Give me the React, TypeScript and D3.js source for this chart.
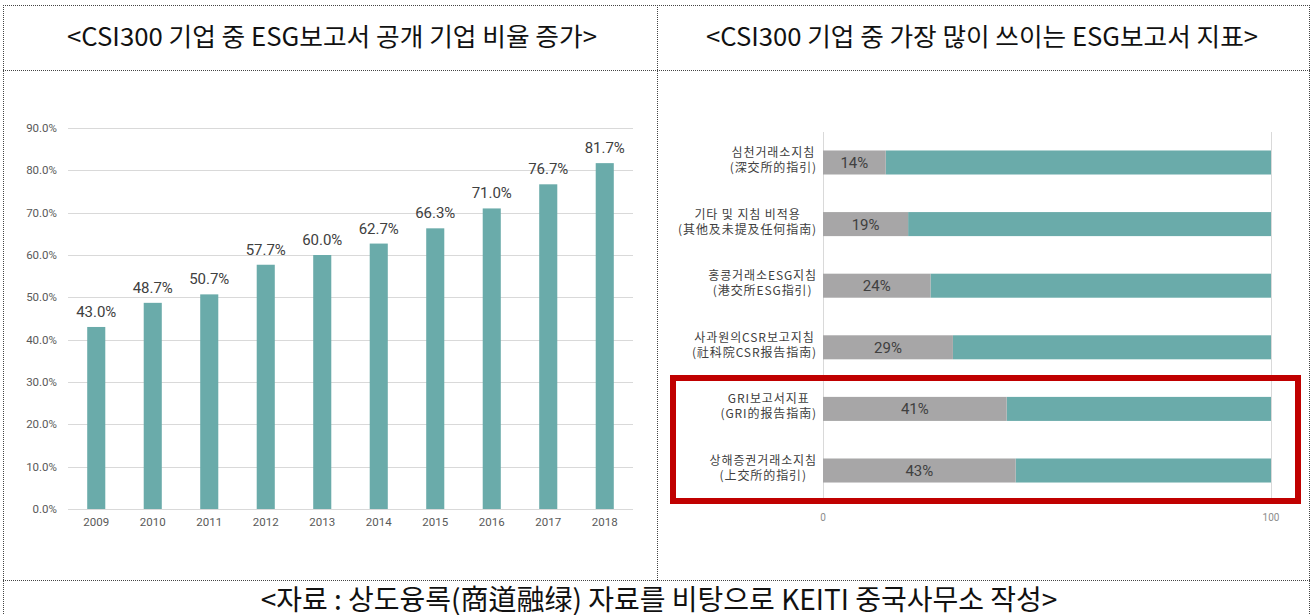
import React, { useEffect, useRef } from "react";
import * as d3 from "d3";

const years = ["2009", "2010", "2011", "2012", "2013", "2014", "2015", "2016", "2017", "2018"];
const disclosureRates = [43.0, 48.7, 50.7, 57.7, 60.0, 62.7, 66.3, 71.0, 76.7, 81.7];
const yTicks = [0, 10, 20, 30, 40, 50, 60, 70, 80, 90];

const guideLine1 = ["심천거래소지침", "기타 및 지침 비적용", "홍콩거래소ESG지침", "사과원의CSR보고지침", "GRI보고서지표", "상해증권거래소지침"];
const guideLine2 = ["(深交所的指引)", "(其他及未提及任何指南)", "(港交所ESG指引)", "(社科院CSR报告指南)", "(GRI的报告指南)", "(上交所的指引)"];
const guideShares = [14, 19, 24, 29, 41, 43];
const xTicks = [0, 100];

const leftTitle = "<CSI300 기업 중 ESG보고서 공개 기업 비율 증가>";
const rightTitle = "<CSI300 기업 중 가장 많이 쓰이는 ESG보고서 지표>";
const footer = "<자료 : 상도융록(商道融绿) 자료를 비탕으로 KEITI 중국사무소 작성>";

const TEAL = "#6aabaa";
const GRAY = "#a7a6a7";
const KR = "'Noto Sans CJK KR', 'Noto Sans', sans-serif";
const NUM = "Roboto, 'Noto Sans', sans-serif";

export default function App() {
  const ref = useRef<SVGSVGElement>(null);

  useEffect(() => {
    const svg = d3.select(ref.current);
    svg.selectAll("*").remove();

    // Frame (dotted)
    const frame = svg.append("g").attr("stroke", "#444").attr("stroke-width", 1).attr("stroke-dasharray", "1 1").attr("fill", "none");
    const lines: [number, number, number, number][] = [
      [3, 5.5, 1310, 5.5],
      [3, 70.5, 1310, 70.5],
      [3, 580.5, 1310, 580.5],
      [3.5, 5, 3.5, 615],
      [1309.5, 5, 1309.5, 615],
      [657.5, 5, 657.5, 581],
    ];
    lines.forEach(([x1, y1, x2, y2]) => frame.append("line").attr("x1", x1).attr("y1", y1).attr("x2", x2).attr("y2", y2));

    // Titles
    svg.append("text").attr("x", 332).attr("y", 46).attr("text-anchor", "middle")
      .attr("font-family", KR).attr("font-size", 25).attr("fill", "#111")
      .attr("textLength", 530).attr("lengthAdjust", "spacingAndGlyphs").text(leftTitle);
    svg.append("text").attr("x", 982).attr("y", 46).attr("text-anchor", "middle")
      .attr("font-family", KR).attr("font-size", 25).attr("fill", "#111")
      .attr("textLength", 552).attr("lengthAdjust", "spacingAndGlyphs").text(rightTitle);
    svg.append("text").attr("x", 659).attr("y", 610).attr("text-anchor", "middle")
      .attr("font-family", KR).attr("font-size", 28).attr("fill", "#111").text(footer);

    // Left chart
    const x = d3.scaleBand<string>().domain(years).range([68, 633]).paddingInner(0.68).paddingOuter(0.34);
    const y = d3.scaleLinear().domain([0, 90]).range([509, 128]);
    const L = svg.append("g");
    L.selectAll("line.grid").data(yTicks).join("line")
      .attr("x1", 68).attr("x2", 633)
      .attr("y1", (d) => Math.round(y(d)) + 0.5).attr("y2", (d) => Math.round(y(d)) + 0.5)
      .attr("stroke", "#d9d9d9").attr("stroke-width", 1);
    L.selectAll("text.ytick").data(yTicks).join("text")
      .attr("x", 57).attr("y", (d) => y(d) + 4).attr("text-anchor", "end")
      .attr("font-family", NUM).attr("font-size", 11.5).attr("fill", "#595959")
      .text((d) => d.toFixed(1) + "%");
    L.selectAll("rect.bar").data(disclosureRates).join("rect")
      .attr("x", (_, i) => x(years[i])!).attr("width", x.bandwidth())
      .attr("y", (d) => y(d)).attr("height", (d) => y(0) - y(d))
      .attr("fill", TEAL);
    L.selectAll("text.val").data(disclosureRates).join("text")
      .attr("x", (_, i) => x(years[i])! + x.bandwidth() / 2).attr("y", (d) => y(d) - 10)
      .attr("text-anchor", "middle").attr("font-family", NUM).attr("font-size", 15).attr("fill", "#404040")
      .text((d) => d.toFixed(1) + "%");
    L.selectAll("text.xtick").data(years).join("text")
      .attr("x", (d) => x(d)! + x.bandwidth() / 2).attr("y", 526)
      .attr("text-anchor", "middle").attr("font-family", NUM).attr("font-size", 11.5).attr("fill", "#595959")
      .text((d) => d);

    // Right chart
    const xr = d3.scaleLinear().domain([0, 100]).range([823, 1271]);
    const yr = d3.scaleBand<number>().domain(d3.range(guideShares.length)).range([132, 501]).paddingInner(0.61).paddingOuter(0.3);
    const R = svg.append("g");
    R.selectAll("line.vax").data(xTicks).join("line")
      .attr("x1", (d) => Math.round(xr(d)) + 0.5).attr("x2", (d) => Math.round(xr(d)) + 0.5)
      .attr("y1", 132).attr("y2", 500).attr("stroke", "#d9d9d9");
    R.selectAll("text.xt").data(xTicks).join("text")
      .attr("x", (d) => xr(d)).attr("y", 521).attr("text-anchor", "middle")
      .attr("font-family", NUM).attr("font-size", 10).attr("fill", "#8c8c8c").text((d) => String(d));
    R.selectAll("rect.rest").data(guideShares).join("rect")
      .attr("x", (d) => xr(d)).attr("width", (d) => xr(100) - xr(d))
      .attr("y", (_, i) => yr(i)!).attr("height", yr.bandwidth()).attr("fill", TEAL);
    R.selectAll("rect.share").data(guideShares).join("rect")
      .attr("x", xr(0)).attr("width", (d) => xr(d) - xr(0))
      .attr("y", (_, i) => yr(i)!).attr("height", yr.bandwidth()).attr("fill", GRAY);
    R.selectAll("text.pct").data(guideShares).join("text")
      .attr("x", (d) => (xr(0) + xr(d)) / 2).attr("y", (_, i) => yr(i)! + yr.bandwidth() / 2 + 5.5)
      .attr("text-anchor", "middle").attr("font-family", NUM).attr("font-size", 15).attr("fill", "#404040")
      .text((d) => d + "%");

    // category labels: two centered lines in one text, block right-aligned
    guideShares.forEach((_, i) => {
      const cy = yr(i)! + yr.bandwidth() / 2;
      const t = R.append("text").attr("text-anchor", "middle")
        .attr("font-family", KR).attr("font-size", 12).attr("letter-spacing", 0.9).attr("fill", "#404040");
      const s1 = t.append("tspan").attr("y", cy - 5.5).text(guideLine1[i]);
      const s2 = t.append("tspan").attr("y", cy + 9.5).text(guideLine2[i]);
      const w = Math.max((s1.node() as SVGTextContentElement).getComputedTextLength(), (s2.node() as SVGTextContentElement).getComputedTextLength());
      const cx = 817 - w / 2;
      s1.attr("x", cx);
      s2.attr("x", cx);
    });

    // highlight box
    svg.append("rect").attr("x", 673).attr("y", 378).attr("width", 625).attr("height", 123)
      .attr("fill", "none").attr("stroke", "#c00000").attr("stroke-width", 6);
  }, []);

  return (
    <svg ref={ref} width={1313} height={615} style={{ position: "absolute", left: 0, top: 0, background: "#fff" }} />
  );
}
